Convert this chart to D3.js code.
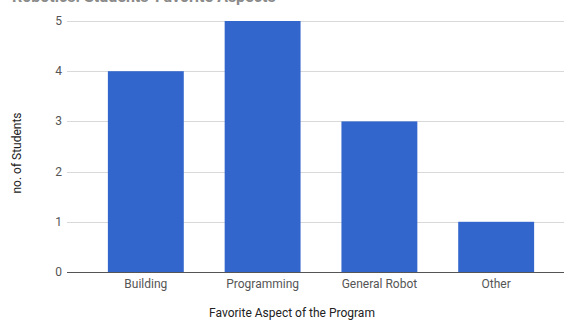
<!DOCTYPE html>
<html>
<head>
<meta charset="utf-8">
<script src="https://cdn.jsdelivr.net/npm/d3@7"></script>
<style>
  html, body { margin: 0; padding: 0; background: #fff; }
  svg { display: block; font-family: Roboto, Arial, sans-serif; }
</style>
</head>
<body>
<svg id="chart" width="564" height="320"></svg>
<script>
// Survey results: what students liked most about the robotics program
const categories = ["Building", "Programming", "General Robot", "Other"];
const students = [4, 5, 3, 1];
const yTicks = [0, 1, 2, 3, 4, 5];

const svg = d3.select("#chart");
const plot = { left: 67, right: 575, top: 21, bottom: 272 };

const x = d3.scaleBand()
  .domain(categories)
  .range([plot.left, plot.right])
  .paddingInner(0.35)
  .paddingOuter(0.35);

const y = d3.scaleLinear()
  .domain([0, 5])
  .range([plot.bottom, plot.top]);

// Title, sitting at the very top edge of the page
svg.append("text")
  .attr("x", 12)
  .attr("y", 1.5)
  .attr("font-size", 16)
  .attr("font-weight", "bold")
  .attr("fill", "#8a8a8a")
  .text("Robotics: Students' Favorite Aspects");

// Horizontal gridlines
svg.append("g")
  .selectAll("line")
  .data(yTicks.filter(d => d > 0))
  .join("line")
  .attr("x1", plot.left)
  .attr("x2", 564)
  .attr("y1", d => Math.round(y(d)) + 0.5)
  .attr("y2", d => Math.round(y(d)) + 0.5)
  .attr("stroke", "#d9d9d9")
  .attr("stroke-width", 1);

// Y tick labels
svg.append("g")
  .selectAll("text")
  .data(yTicks)
  .join("text")
  .attr("x", 62)
  .attr("y", d => y(d) + 4)
  .attr("text-anchor", "end")
  .attr("font-size", 12)
  .attr("fill", "#555")
  .text(d => d);

// Bars
svg.append("g")
  .selectAll("rect")
  .data(categories.map((c, i) => ({ c, v: students[i] })))
  .join("rect")
  .attr("x", d => x(d.c))
  .attr("width", x.bandwidth())
  .attr("y", d => y(d.v))
  .attr("height", d => y(0) - y(d.v))
  .attr("fill", "#3366cc");

// Baseline
svg.append("line")
  .attr("x1", plot.left)
  .attr("x2", 564)
  .attr("y1", Math.round(y(0)) + 0.5)
  .attr("y2", Math.round(y(0)) + 0.5)
  .attr("stroke", "#555")
  .attr("stroke-width", 1);

// Category labels
svg.append("g")
  .selectAll("text")
  .data(categories)
  .join("text")
  .attr("x", d => x(d) + x.bandwidth() / 2)
  .attr("y", 288)
  .attr("text-anchor", "middle")
  .attr("font-size", 12)
  .attr("fill", "#555")
  .text(d => d);

// Axis titles
svg.append("text")
  .attr("x", 292)
  .attr("y", 317)
  .attr("text-anchor", "middle")
  .attr("font-size", 12)
  .attr("fill", "#222")
  .text("Favorite Aspect of the Program");

svg.append("text")
  .attr("transform", "translate(21,153) rotate(-90)")
  .attr("text-anchor", "middle")
  .attr("font-size", 12)
  .attr("fill", "#222")
  .text("no. of Students");
</script>
</body>
</html>
